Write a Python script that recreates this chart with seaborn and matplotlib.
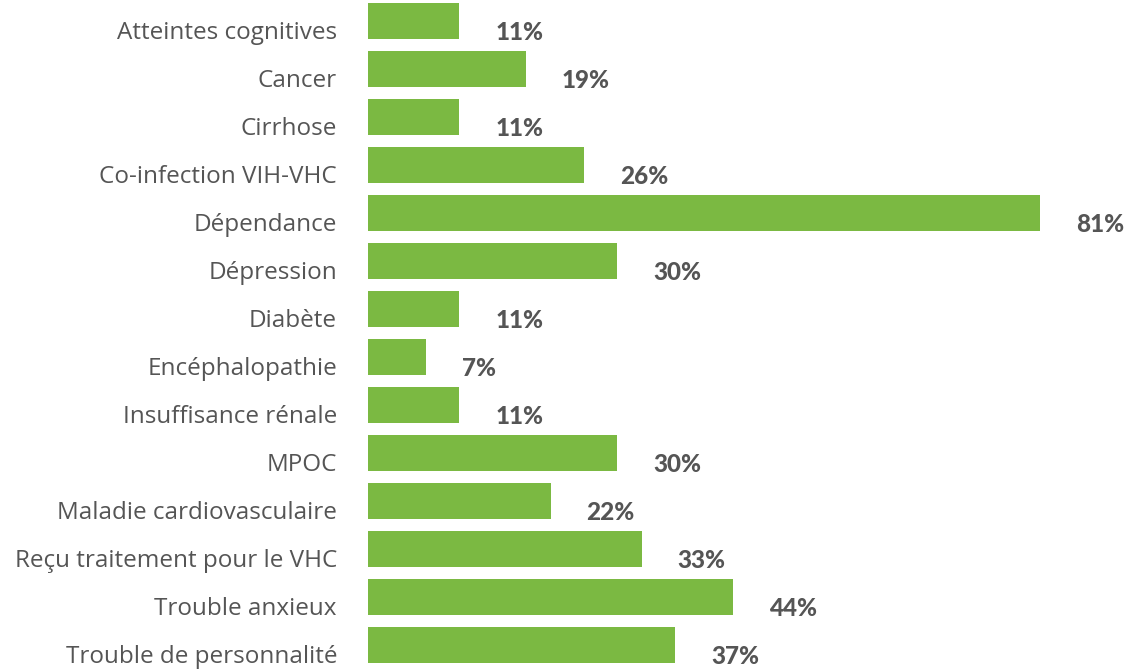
import matplotlib
matplotlib.use("Agg")
import matplotlib.pyplot as plt
import seaborn as sns
import pandas as pd
from matplotlib import transforms

categories = ["Atteintes cognitives", "Cancer", "Cirrhose", "Co-infection VIH-VHC",
              "Dépendance", "Dépression", "Diabète", "Encéphalopathie",
              "Insuffisance rénale", "MPOC", "Maladie cardiovasculaire",
              "Reçu traitement pour le VHC", "Trouble anxieux", "Trouble de personnalité"]
values = [11, 19, 11, 26, 81, 30, 11, 7, 11, 30, 22, 33, 44, 37]
value_labels = [f"{v}%" for v in values]

df = pd.DataFrame({"cat": categories, "val": values})

sns.set_theme(style="white")
plt.rcParams['font.family'] = ['Open Sans', 'DejaVu Sans']

W, H = 1145, 669
fig = plt.figure(figsize=(W / 100, H / 100), dpi=100)
left = 368 / W
right = 1040 / W
ax = fig.add_axes([left, 0.0, right - left, 1 + 3 / H])

sns.barplot(data=df, x="val", y="cat", orient="h", color="#7bb942",
            saturation=1, width=0.73, linewidth=0, ax=ax)
ax.set_xlim(0, 81)
ax.set_ylim(len(categories) - 0.5, -0.5)
ax.set_xlabel("")
ax.set_ylabel("")
ax.set_xticks([])
ax.set_yticks([])
for s in ax.spines.values():
    s.set_visible(False)

off_down = transforms.ScaledTranslation(-31 / 100, -12 / 100, fig.dpi_scale_trans)
for i, c in enumerate(categories):
    ax.text(0, i, c, transform=ax.get_yaxis_transform() + off_down,
            ha="right", va="center", fontsize=17.5, color="#555555", fontweight="normal",
            family=["Open Sans", "DejaVu Sans"])

val_tr = ax.transData + transforms.ScaledTranslation(36 / 100, -11 / 100, fig.dpi_scale_trans)
for i, (v, lab) in enumerate(zip(values, value_labels)):
    ax.text(v, i, lab, transform=val_tr, ha="left", va="center", fontsize=17.5,
            color="#555555", fontweight="black", clip_on=False,
            family=["Lato", "DejaVu Sans"])

fig.savefig("out.png", dpi=100)
